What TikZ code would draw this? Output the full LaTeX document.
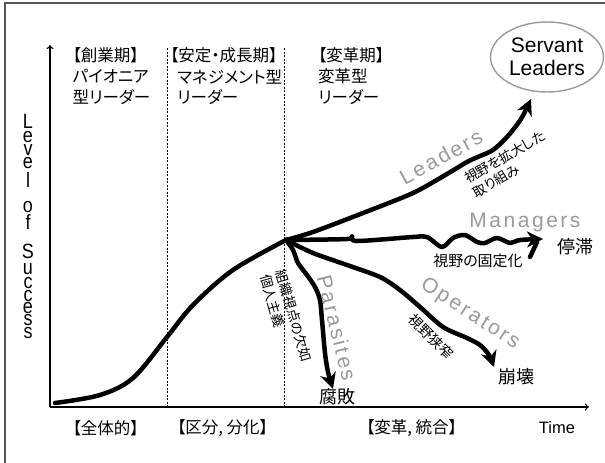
\documentclass[tikz,border=0pt]{standalone}
\usepackage{fontspec}
\setmainfont{Liberation Sans}
\newfontfamily\jp[RawFeature=+palt]{Noto Sans CJK JP}
\newfontfamily\gfont[LetterSpace=12]{Liberation Sans}
\usetikzlibrary{arrows.meta,shapes.geometric}
\definecolor{lgray}{HTML}{9A9A9A}
\definecolor{framegray}{HTML}{555555}
\begin{document}
\begin{tikzpicture}[x=1pt,y=-1pt,
  curve/.style={line width=4.5pt, line cap=round, line join=round},
  tipped/.style={-{Stealth[length=16pt,width=16pt,inset=5pt]}},
  axis/.style={line width=1.1pt, -{To[length=4pt,width=7pt]}},
  divider/.style={line width=0.6pt, dash pattern=on 2pt off 1.5pt},
  hdr/.style={font=\jp\fontsize{16.5}{19}\selectfont, anchor=west, inner sep=0},
  glabel/.style={text=lgray, font=\gfont\fontsize{21}{25}\selectfont, inner sep=0},
  note/.style={font=\jp\fontsize{13.5}{16.5}\selectfont, inner sep=0, align=left},
  big/.style={font=\jp\fontsize{18}{21}\selectfont, inner sep=0},
  ylet/.style={font=\fontsize{18}{20}\selectfont, inner sep=0}
]
\useasboundingbox (0,0) rectangle (605,463);
% frame
\draw[framegray, line width=1.5pt] (5,463) -- (5,3) -- (605,3);
% axes
\coordinate (org) at (50,407);
\coordinate (ytop) at (50,45);
\coordinate (xend) at (589,407);
\draw[axis] (org) -- (ytop);
\draw[axis] (org) -- (xend);
% dividers
\coordinate (d1t) at (167,48); \coordinate (d1b) at (167,407);
\coordinate (d2t) at (284,48); \coordinate (d2b) at (284,407);
\draw[divider] (d1t) -- (d1b);
\draw[divider] (d2t) -- (d2b);
% headers
\node[hdr] (h1a) at (72.5,55) {【創業期】};
\node[hdr] (h1b) at (72.5,76.5) {パイオニア};
\node[hdr] (h1c) at (72.5,97) {型リーダー};
\node[hdr] (h2a) at (170,55) {【安定・成長期】};
\node[hdr] (h2b) at (177,76.5) {マネジメント型};
\node[hdr] (h2c) at (177,97) {リーダー};
\node[hdr] (h3a) at (318,55) {【変革期】};
\node[hdr] (h3b) at (318,76.5) {変革型};
\node[hdr] (h3c) at (318,97) {リーダー};
% bottom labels
\node[hdr] (b1) at (72.5,428) {【全体的】};
\node[hdr] (b2) at (177,428) {【区分, 分化】};
\node[hdr] (b3) at (366,428) {【変革, 統合】};
\node[inner sep=0, font=\fontsize{16.5}{19}\selectfont] (time) at (557,428) {Time};
% y label
\foreach \ch/\yy [count=\i] in {L/121,e/137,v/150,e/163,l/180,o/207,f/222,S/251,u/269,c/283,c/296,e/308,s/320,s/333}
  \node[ylet] (yl\i) at (28,\yy) {\scalebox{1}[1.15]{\ch}};
% servant leaders
\node[draw=lgray, line width=1.4pt, ellipse, minimum width=113pt, minimum height=70pt, inner sep=0,
  align=center, font=\fontsize{21}{23.5}\selectfont] (sl) at (547,57) {Servant\\Leaders};
% curves
\coordinate (O) at (286,240);
\coordinate (start) at (55,403);
\coordinate (Ltip) at (531,99);
\coordinate (Mtip) at (543,239);
\coordinate (Otip) at (494,367);
\coordinate (Ptip) at (333,389);
\coordinate (mtail1) at (537,242);
\coordinate (mtail2) at (530,257);
\draw[curve] plot[smooth, tension=0.55] coordinates {(start) (100,395) (133,378) (167,337) (193,305) (233,270) (O)};
\draw[curve, tipped] plot[smooth, tension=0.5] coordinates {(O) (313,232) (363,213) (413,193) (447,174) (467,162) (480,156) (493,150) (507,137) (521,119) (Ltip)};
\draw[curve, tipped] plot[smooth, tension=0.5] coordinates {(O) (347,239) (352,236) (357,241) (413,237) (427,237) (442,247) (453,238) (465,235) (477,242) (485,243) (497,238) (510,243) (520,240) (Mtip)};
\draw[curve] (mtail1) -- (mtail2);
\draw[curve, tipped] plot[smooth, tension=0.5] coordinates {(O) (313,253) (347,265) (380,277) (400,290) (420,307) (443,327) (467,338) (480,345) (489,355) (Otip)};
\draw[curve, tipped] plot[smooth, tension=0.5] coordinates {(O) (293,250) (298,263) (307,275) (315,287) (320,300) (322,320) (325,353) (328,372) (Ptip)};
% gray labels
\node[glabel, rotate=29] (gL) at (441,157) {Leaders};
\node[glabel] (gM) at (525,222) {Managers};
\node[glabel, rotate=-33] (gO) at (470,314) {Operators};
\node[glabel, rotate=-76] (gP) at (337,328) {Parasites};
% notes
\node[note, rotate=30] (n1) at (509,164) {視野を拡大した\\取り組み};
\node[note, rotate=-74] (n2) at (286,318) {組織視点の欠如\\個人主義};
\node[note, font=\jp\fontsize{15}{18}\selectfont] (n3) at (478,261) {視野の固定化};
\node[note, rotate=-45, font=\jp\fontsize{14}{17}\selectfont] (n4) at (431,337) {視野狭窄};
\node[big] (r1) at (575,247) {停滞};
\node[big] (r2) at (516,377) {崩壊};
\node[big] (r3) at (337,397) {腐敗};
\end{tikzpicture}
\end{document}
